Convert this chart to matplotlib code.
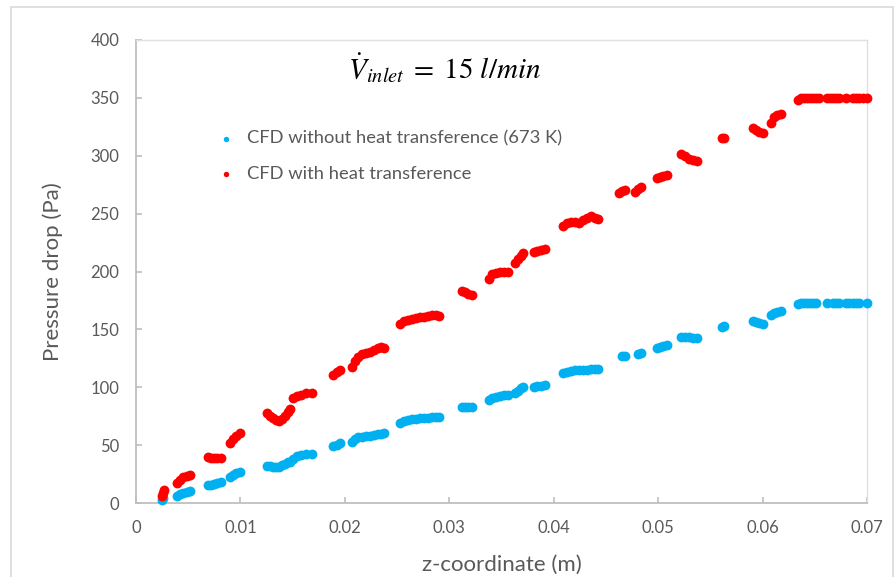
import matplotlib.pyplot as plt
from matplotlib.patches import Rectangle

# CFD without heat transference (673 K)
z_cold = [0.00249, 0.00259,
          0.00390, 0.00421, 0.00453, 0.00486, 0.00517,
          0.00690, 0.00718, 0.00747, 0.00776, 0.00814,
          0.00900, 0.00929, 0.00958, 0.00996,
          0.01252, 0.01284, 0.01312, 0.01341, 0.01370, 0.01398, 0.01427, 0.01456,
          0.01475, 0.01507, 0.01542, 0.01580, 0.01628, 0.01683,
          0.01890, 0.01922, 0.01954,
          0.02066, 0.02098, 0.02129, 0.02165, 0.02203, 0.02241, 0.02280, 0.02318, 0.02347, 0.02375,
          0.02529, 0.02567, 0.02605, 0.02644, 0.02682, 0.02720, 0.02759, 0.02797, 0.02835, 0.02874, 0.02905,
          0.03120, 0.03151, 0.03180, 0.03215,
          0.03375, 0.03410, 0.03448, 0.03487, 0.03525, 0.03563,
          0.03630, 0.03659, 0.03688, 0.03710,
          0.03806, 0.03841, 0.03879, 0.03918,
          0.04093, 0.04128, 0.04167, 0.04205, 0.04243, 0.04282, 0.04320, 0.04358, 0.04397, 0.04428,
          0.04655, 0.04684,
          0.04808, 0.04837,
          0.04988, 0.05019, 0.05048, 0.05083,
          0.05220, 0.05259, 0.05297, 0.05335, 0.05374,
          0.05610, 0.05632,
          0.05907, 0.05939, 0.05967, 0.06006,
          0.06080, 0.06105, 0.06140, 0.06178,
          0.06341, 0.06370, 0.06398, 0.06427, 0.06456, 0.06485, 0.06513,
          0.06619, 0.06676, 0.06705, 0.06734,
          0.06801, 0.06830, 0.06868, 0.06897, 0.06925, 0.07000]
p_cold = [2.6, 4.0,
          6.3, 7.5, 8.8, 9.8, 10.6,
          15.6, 16.0, 16.5, 17.2, 17.9,
          22.7, 24.5, 26.0, 27.0,
          32.0, 31.8, 31.5, 31.2, 31.5, 32.5, 34.0, 35.4,
          35.7, 38.0, 40.6, 41.5, 42.0, 42.3,
          49.2, 50.4, 51.6,
          53.0, 55.0, 56.8, 57.3, 57.7, 58.1, 58.8, 59.4, 59.8, 60.2,
          68.9, 70.5, 71.7, 72.2, 72.7, 73.2, 73.5, 73.8, 74.1, 74.4, 74.6,
          83.2, 83.0, 82.8, 82.6,
          89.0, 91.0, 92.0, 92.5, 93.0, 93.3,
          95.3, 97.0, 99.0, 100.5,
          100.5, 101.0, 101.5, 102.0,
          112.1, 113.2, 114.3, 114.6, 114.9, 115.1, 115.3, 115.5, 115.6, 115.5,
          127.0, 127.3,
          129.0, 129.6,
          134.0, 135.0, 136.0, 136.5,
          143.0, 143.2, 143.0, 142.8, 142.8,
          152.3, 152.5,
          157.5, 156.6, 155.5, 154.6,
          162.4, 164.0, 165.3, 166.0,
          171.9, 172.5, 172.8, 172.8, 172.8, 172.8, 172.8,
          172.8, 172.8, 172.8, 172.8,
          172.8, 172.8, 172.8, 172.8, 172.8, 172.8]

# CFD with heat transference
z_heat = [0.00249, 0.00259, 0.00268,
          0.00390, 0.00421, 0.00453, 0.00486, 0.00517,
          0.00690, 0.00718, 0.00747, 0.00776, 0.00814,
          0.00900, 0.00929, 0.00958, 0.00996,
          0.01252, 0.01284, 0.01312, 0.01341, 0.01370, 0.01398, 0.01427, 0.01456, 0.01475,
          0.01507, 0.01542, 0.01580, 0.01628, 0.01683,
          0.01890, 0.01922, 0.01954,
          0.02066, 0.02098, 0.02129, 0.02165, 0.02203, 0.02241, 0.02280, 0.02318, 0.02347, 0.02375,
          0.02529, 0.02567, 0.02605, 0.02644, 0.02682, 0.02720, 0.02759, 0.02797, 0.02835, 0.02874, 0.02905,
          0.03120, 0.03151, 0.03180, 0.03215,
          0.03375, 0.03410, 0.03448, 0.03487, 0.03525, 0.03563,
          0.03630, 0.03659, 0.03688, 0.03710,
          0.03806, 0.03841, 0.03879, 0.03918,
          0.04093, 0.04128, 0.04167, 0.04205, 0.04243, 0.04282, 0.04320, 0.04358, 0.04397, 0.04428,
          0.04620, 0.04655, 0.04684,
          0.04780, 0.04808, 0.04837,
          0.04988, 0.05019, 0.05048, 0.05083,
          0.05220, 0.05259, 0.05297, 0.05335, 0.05374,
          0.05610, 0.05632,
          0.05907, 0.05939, 0.05967, 0.06006,
          0.06080, 0.06105, 0.06140, 0.06178,
          0.06341, 0.06370, 0.06398, 0.06427, 0.06456, 0.06485, 0.06513, 0.06542,
          0.06619, 0.06648, 0.06676, 0.06705, 0.06734,
          0.06801, 0.06868, 0.06897, 0.06925, 0.06964, 0.07000]
p_heat = [6.0, 8.6, 11.2,
          17.0, 19.9, 22.5, 23.3, 23.8,
          39.5, 39.2, 39.0, 39.1, 39.3,
          51.8, 55.0, 58.0, 60.5,
          77.5, 75.5, 73.8, 72.0, 71.2, 72.5, 75.0, 78.5, 81.0,
          90.5, 92.4, 93.7, 94.8, 95.0,
          110.6, 112.8, 114.9,
          117.8, 122.5, 126.4, 128.5, 130.0, 130.7, 132.0, 134.0, 135.0, 133.8,
          154.7, 157.5, 158.5, 159.3, 159.8, 160.3, 160.8, 161.5, 162.2, 162.5, 161.8,
          183.4, 182.3, 181.0, 179.7,
          193.3, 198.0, 198.8, 199.3, 199.6, 200.0,
          207.1, 210.5, 213.5, 215.7,
          217.1, 218.0, 218.6, 219.2,
          239.3, 241.5, 243.0, 242.5, 242.2, 244.5, 246.5, 247.8, 246.5, 245.1,
          268.1, 269.3, 270.4,
          269.0, 271.0, 273.3,
          280.5, 281.5, 282.5, 283.4,
          301.5, 299.5, 297.5, 296.5, 295.5,
          315.1, 315.3,
          323.7, 322.0, 320.8, 319.4,
          328.6, 333.8, 335.2, 336.3,
          348.2, 349.5, 350.0, 350.2, 350.3, 350.3, 350.3, 350.3,
          350.3, 350.3, 350.3, 350.3, 350.3,
          350.3, 350.3, 350.3, 350.3, 350.3, 350.3]

x_ticks = [0, 0.01, 0.02, 0.03, 0.04, 0.05, 0.06, 0.07]
x_labels = ['0', '0.01', '0.02', '0.03', '0.04', '0.05', '0.06', '0.07']
y_ticks = [0, 50, 100, 150, 200, 250, 300, 350, 400]

grey = '#595959'
plt.rcParams['font.family'] = ['Lato', 'DejaVu Sans']
plt.rcParams['mathtext.fontset'] = 'stix'

fig = plt.figure(figsize=(8.95, 5.77), dpi=100)
ax = fig.add_axes([0.152, 0.1282, 0.8168, 0.8025])

ax.scatter(z_cold, p_cold, s=50, color='#00B0F0', linewidths=0, zorder=3,
           clip_on=False, label='CFD without heat transference (673 K)')
ax.scatter(z_heat, p_heat, s=50, color='#FF0000', linewidths=0, zorder=3,
           clip_on=False, label='CFD with heat transference')

ax.set_xlim(0, 0.07)
ax.set_ylim(0, 400)
ax.set_xticks(x_ticks)
ax.set_xticklabels(x_labels)
ax.set_yticks(y_ticks)

for side in ['left', 'bottom']:
    ax.spines[side].set_color('#bfbfbf')
    ax.spines[side].set_linewidth(1.3)
for side in ['top', 'right']:
    ax.spines[side].set_color('#e0e0e0')
    ax.spines[side].set_linewidth(1.0)

ax.tick_params(direction='in', length=4, width=1.2, color='#bfbfbf',
               labelsize=12, labelcolor=grey)
ax.tick_params(axis='x', pad=12)
ax.tick_params(axis='y', pad=12)

ax.set_xlabel('z-coordinate (m)', fontsize=16, color=grey, labelpad=14)
ax.set_ylabel('Pressure drop (Pa)', fontsize=16, color=grey, labelpad=20)

fig.text(0.497, 0.882, r'$\dot{V}_{inlet}\; =\; 15\ l/min$', fontsize=21,
         ha='center', va='center', color='black')

ax.legend(loc='upper left', bbox_to_anchor=(0.076, 0.84), frameon=False,
          fontsize=13.2, labelcolor=grey, markerscale=0.55,
          handletextpad=0.1, labelspacing=1.05)

fig.patches.append(Rectangle((11 / 895, -0.01), 882 / 895, 1 - 7 / 577 + 0.01,
                             transform=fig.transFigure, fill=False,
                             edgecolor='#d9d9d9', linewidth=1.2))

fig.savefig('out.png', dpi=100)
